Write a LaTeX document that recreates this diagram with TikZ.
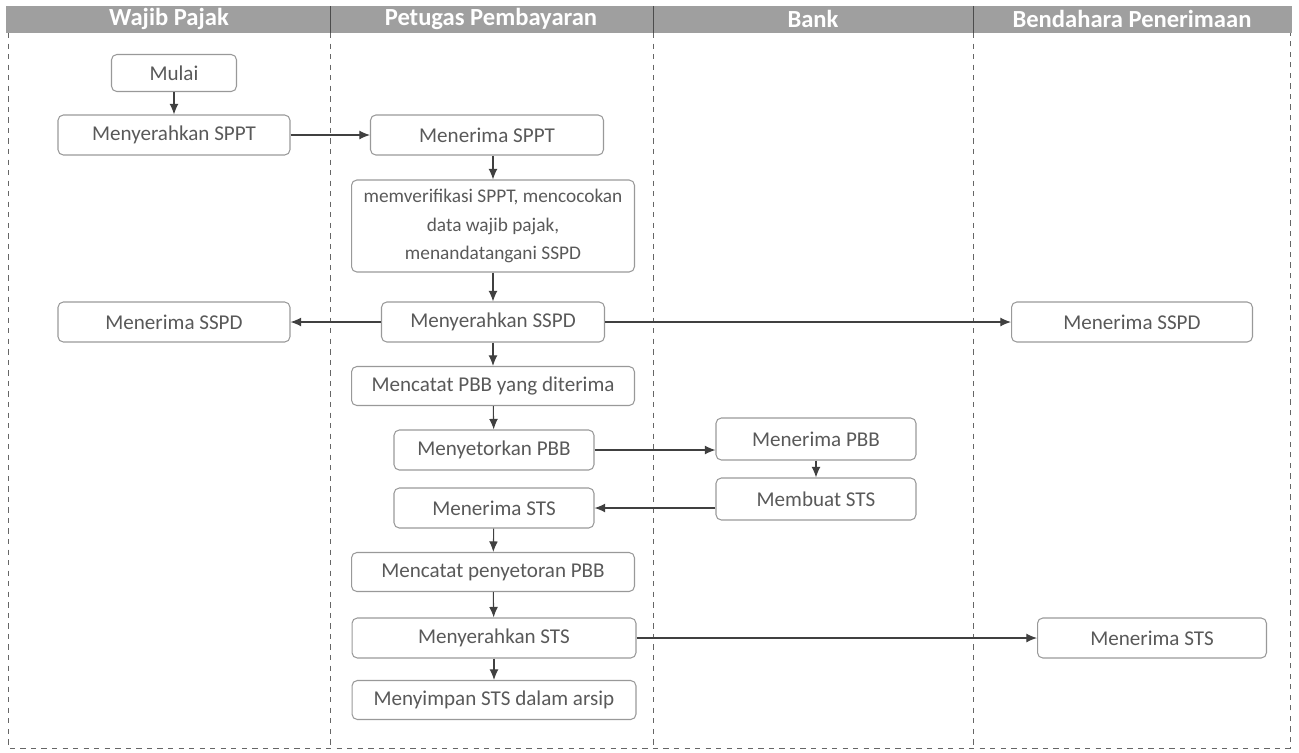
\documentclass[tikz,border=0pt]{standalone}
\usepackage{fontspec}
\setmainfont{Carlito}
\usetikzlibrary{arrows.meta}

\begin{document}
\begin{tikzpicture}[x=0.02cm, y=-0.02cm,
    proses/.style={draw=gray!80, rounded corners=3pt, line width=0.6pt, text=black!65,
        font=\fontsize{12}{15}\selectfont, align=center, minimum height=0.8cm, inner sep=2pt},
    panah/.style={-{Latex[length=6pt,width=5pt]}, draw=black!75, line width=0.6pt},
    jalur/.style={dashed, draw=black!60, line width=0.5pt}]
\useasboundingbox (0,0) rectangle (1299,752);
% Kepala jalur
\fill[gray!75] (6,6) rectangle (1292,33);
\foreach \x/\nama/\judul in {169/wp/Wajib Pajak, 491/pp/Petugas Pembayaran, 813/bank/Bank, 1132/bp/Bendahara Penerimaan}
    \node[text=white, font=\fontsize{14}{16}\selectfont\bfseries] (\nama) at (\x,19) {\judul};
% Garis jalur
\draw[jalur] (8,33) -- (8,748) -- (1290,748) -- (1290,33);
\foreach \x in {330,653,973} {
    \draw[black!70, line width=0.5pt] (\x,6) -- (\x,33);
    \draw[jalur] (\x,33) -- (\x,748);
}
% Wajib Pajak
\node[proses, minimum width=2.5cm, minimum height=0.74cm] (mulai) at (174,73) {Mulai};
\node[proses, minimum width=4.64cm] (serahSPPT) at (174,135) {Menyerahkan SPPT};
\node[proses, minimum width=4.64cm] (wpSSPD) at (174,322) {Menerima SSPD};
% Petugas Pembayaran
\node[proses, minimum width=4.66cm] (terimaSPPT) at (487,135) {Menerima SPPT};
\node[proses, minimum width=5.66cm, minimum height=1.84cm, font=\fontsize{11}{16}\selectfont] (verif) at (493,226)
    {memverifikasi SPPT, mencocokan\\data wajib pajak,\\menandatangani SSPD};
\node[proses, minimum width=4.46cm] (serahSSPD) at (493,322) {Menyerahkan SSPD};
\node[proses, minimum width=5.66cm, minimum height=0.78cm] (catatPBB) at (493,386) {Mencatat PBB yang diterima};
\node[proses, minimum width=4.0cm] (setorPBB) at (494,450) {Menyetorkan PBB};
\node[proses, minimum width=4.0cm] (terimaSTS) at (494,508) {Menerima STS};
\node[proses, minimum width=5.66cm, minimum height=0.78cm] (catatSetor) at (493,572) {Mencatat penyetoran PBB};
\node[proses, minimum width=5.68cm] (serahSTS) at (494,638) {Menyerahkan STS};
\node[proses, minimum width=5.68cm, minimum height=0.78cm] (simpan) at (494,700) {Menyimpan STS dalam arsip};
% Bank
\node[proses, minimum width=4.0cm, minimum height=0.84cm] (terimaPBB) at (816,439) {Menerima PBB};
\node[proses, minimum width=4.0cm, minimum height=0.84cm] (buatSTS) at (816,499) {Membuat STS};
% Bendahara Penerimaan
\node[proses, minimum width=4.82cm] (bendSSPD) at (1132,322) {Menerima SSPD};
\node[proses, minimum width=4.58cm] (bendSTS) at (1152,638) {Menerima STS};
% Alur
\draw[panah] (mulai) -- (serahSPPT);
\draw[panah] (serahSPPT) -- (terimaSPPT);
\draw[panah] (terimaSPPT.south -| verif) -- (verif);
\draw[panah] (verif) -- (serahSSPD);
\draw[panah] (serahSSPD) -- (wpSSPD);
\draw[panah] (serahSSPD) -- (bendSSPD);
\draw[panah] (serahSSPD) -- (catatPBB);
\draw[panah] (catatPBB) -- (setorPBB);
\draw[panah] (setorPBB.east) -- (setorPBB.east -| terimaPBB.west);
\draw[panah] (terimaPBB) -- (buatSTS);
\draw[panah] (buatSTS.west |- terimaSTS) -- (terimaSTS.east);
\draw[panah] (terimaSTS) -- (catatSetor);
\draw[panah] (catatSetor) -- (serahSTS);
\draw[panah] (serahSTS) -- (bendSTS);
\draw[panah] (serahSTS) -- (simpan);
\end{tikzpicture}
\end{document}
